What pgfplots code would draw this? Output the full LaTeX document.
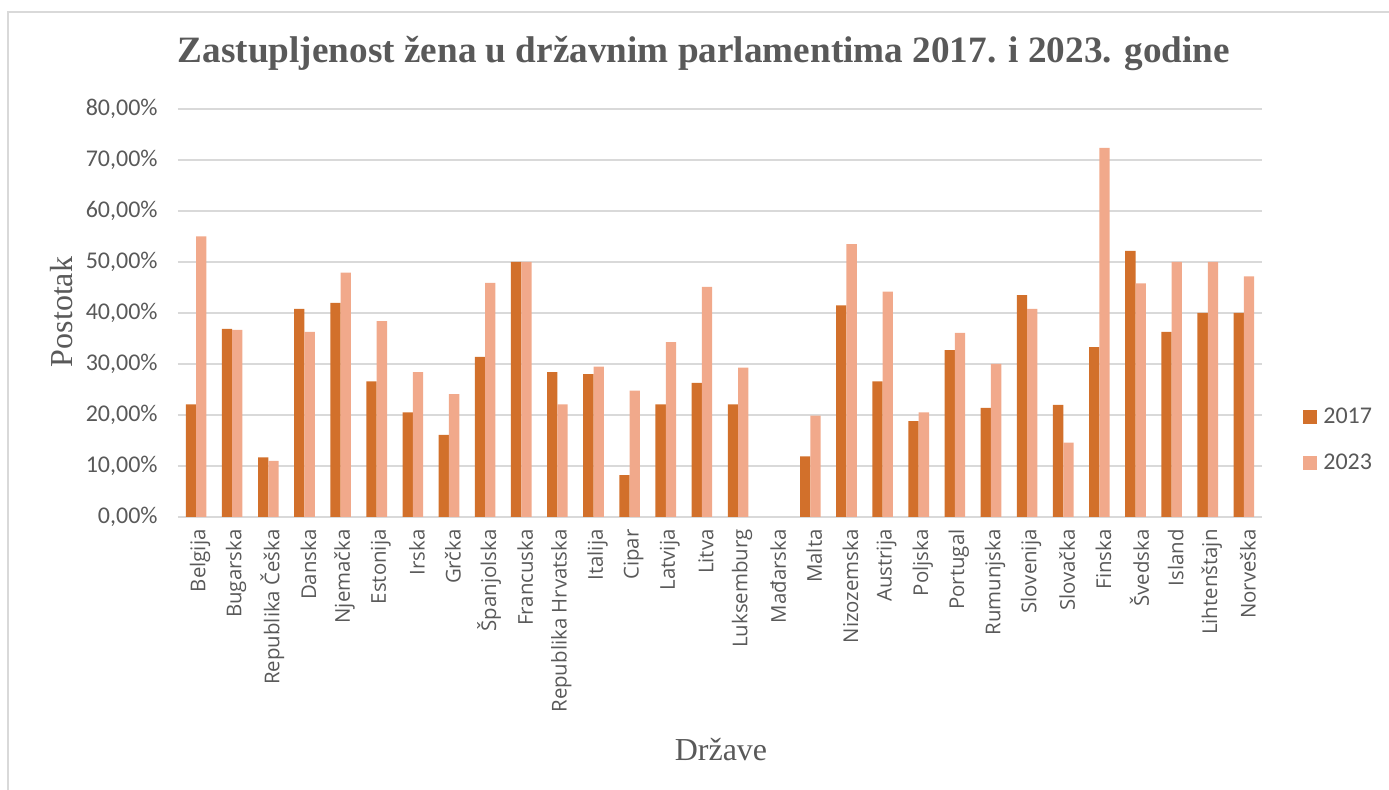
\documentclass[border=0pt]{standalone}
\usepackage{pgfplots}
\pgfplotsset{compat=1.18}
\usepackage{fontspec}
\setmainfont{Liberation Serif}
\newfontfamily\carlito{Carlito}
\newfontfamily\opensans{Open Sans}
\definecolor{textgray}{HTML}{595959}
\definecolor{gridgray}{HTML}{D9D9D9}
\definecolor{cA}{HTML}{D2702B}
\definecolor{cB}{HTML}{F1A98B}
\begin{document}
\begin{tikzpicture}
\path[use as bounding box] (0,0) rectangle (694.5pt,395pt);
\draw[gridgray, line width=0.9pt] (4pt,0) -- (4pt,389pt) -- (694.5pt,389pt);
\begin{axis}[
  at={(89pt,136.5pt)}, anchor=south west,
  scale only axis, width=542pt, height=204pt,
  xmin=-0.5, xmax=29.5, ymin=0, ymax=80,
  axis x line*=bottom, axis y line*=left,
  x axis line style={draw=gridgray, line width=0.9pt},
  y axis line style={draw=none},
  major tick length=0pt,
  tick style={draw=none},
  ymajorgrids, grid style={gridgray, line width=0.9pt},
  ytick={0,10,...,80},
  yticklabels={{0,00\%},{10,00\%},{20,00\%},{30,00\%},{40,00\%},{50,00\%},{60,00\%},{70,00\%},{80,00\%}},
  yticklabel style={font=\carlito\fontsize{12}{12}\selectfont, text=textgray, anchor=east, inner sep=0pt, xshift=-10pt},
  xtick={0,...,29},
  xticklabels={Belgija,Bugarska,Republika Češka,Danska,Njemačka,Estonija,Irska,Grčka,Španjolska,Francuska,Republika Hrvatska,Italija,Cipar,Latvija,Litva,Luksemburg,Mađarska,Malta,Nizozemska,Austrija,Poljska,Portugal,Rumunjska,Slovenija,Slovačka,Finska,Švedska,Island,Lihtenštajn,Norveška},
  xticklabel style={font=\opensans\fontsize{10.2}{10.2}\selectfont, text=textgray, yshift=-6pt, xshift=2pt, rotate=90, anchor=east, inner sep=0pt},
  title={Zastupljenost žena u državnim parlamentima 2017. i 2023. godine},
  title style={font=\bfseries\fontsize{18.6}{18.6}\selectfont, text=textgray, at={(0.4852,1.1324)}, anchor=center, yshift=-5.5pt},
  xlabel={Države},
  xlabel style={font=\fontsize{16}{16}\selectfont, text=textgray, at={(0.5009,-0.571)}, anchor=center},
  ylabel={Postotak},
  ylabel style={font=\fontsize{16}{16}\selectfont, text=textgray, at={(-0.107,0.5025)}, anchor=center},
  legend style={at={(1.0378,0.1924)}, anchor=west, draw=none, fill=none, inner sep=0pt,
    font=\carlito\fontsize{12}{12}\selectfont, text=textgray,
    nodes={inner sep=0pt, text height=8.5pt, text depth=0pt},
    row sep=14pt, column sep=3pt},
  legend cell align=left,
]
\addplot[ybar, bar width=5.15pt, bar shift=-2.575pt, fill=cA, draw=none,
  legend image code/.code={\fill[cA] (0pt,-4.5pt) rectangle (7pt,2.5pt);}]
coordinates {(0,22.1) (1,36.9) (2,11.7) (3,40.8) (4,42.0) (5,26.6) (6,20.5) (7,16.1) (8,31.4) (9,50.0) (10,28.4) (11,28.0) (12,8.2) (13,22.1) (14,26.3) (15,22.1) (17,11.9) (18,41.5) (19,26.6) (20,18.8) (21,32.7) (22,21.4) (23,43.5) (24,22.0) (25,33.3) (26,52.2) (27,36.3) (28,40.0) (29,40.0)};
\addlegendentry{2017}
\addplot[ybar, bar width=5.15pt, bar shift=2.575pt, fill=cB, draw=none,
  legend image code/.code={\fill[cB] (0pt,-4.5pt) rectangle (7pt,2.5pt);}]
coordinates {(0,55.0) (1,36.7) (2,11.0) (3,36.3) (4,47.9) (5,38.4) (6,28.4) (7,24.1) (8,45.9) (9,50.0) (10,22.1) (11,29.5) (12,24.8) (13,34.3) (14,45.1) (15,29.3) (17,19.9) (18,53.5) (19,44.2) (20,20.5) (21,36.1) (22,30.0) (23,40.8) (24,14.6) (25,72.4) (26,45.8) (27,50.0) (28,50.0) (29,47.2)};
\addlegendentry{2023}
\end{axis}
\end{tikzpicture}
\end{document}
